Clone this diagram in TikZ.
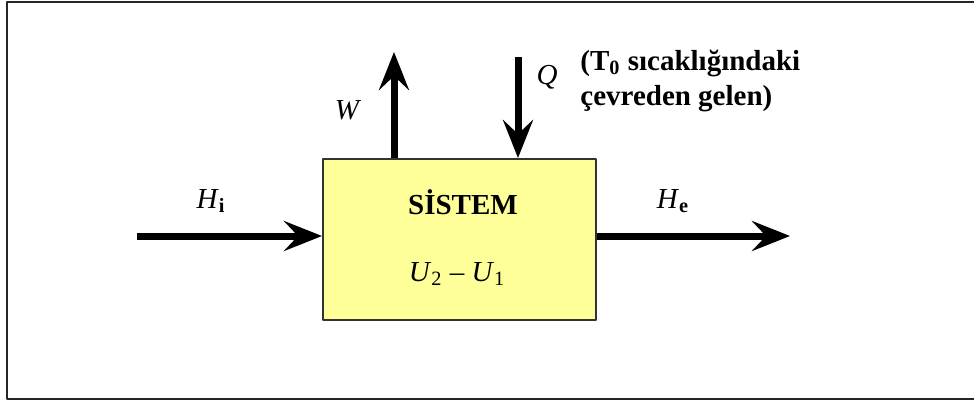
\documentclass[tikz,border=0pt]{standalone}
\usepackage{fontspec}
\setmainfont{Liberation Serif}
\usetikzlibrary{arrows.meta}
\definecolor{sysyellow}{RGB}{255,255,153}

\begin{document}
\begin{tikzpicture}[x=0.5pt,y=-0.5pt,line join=round,
  flow/.style={line width=3.5pt,-{Stealth[length=19pt,width=15pt,inset=7pt]}},
  sysbox/.style={draw=black!80,line width=1pt,fill=sysyellow,
    minimum width=136.5pt,minimum height=80.5pt,inner sep=0pt},
  lbl/.style={font=\fontsize{14.5}{17}\selectfont,inner sep=0pt}]

  \useasboundingbox (0,0) rectangle (974,402);
  %% outer frame, its right side runs off the page
  \draw[line width=1pt,black!85] (974,2) -- (7,2) -- (7,399) -- (974,399);

  %% ---------------- the system ----------------
  \node[sysbox] (sys) at (459.5,239.5) {};
  \node[lbl,font=\fontsize{14.5}{17}\selectfont\bfseries,anchor=base] (title) at (463,214) {SİSTEM};
  \node[lbl,anchor=base] (energy) at (457,281)
       {\textit{U}\textsubscript{2} – \textit{U}\textsubscript{1}};

  %% ---------------- enthalpy in and out ----------------
  \coordinate (hin) at (137,236);
  \coordinate (hout) at (790,236);
  \draw[flow] (hin) -- (hin -| sys.west);
  \draw[flow] (hin -| sys.east) -- (hout);
  \node[lbl,anchor=base] (hi) at (211,208) {\textit{H}\textsubscript{\textbf{i}}};
  \node[lbl,anchor=base] (he) at (673,208) {\textit{H}\textsubscript{\textbf{e}}};

  %% ---------------- work out, heat in ----------------
  \coordinate (wtop) at (394,52);
  \coordinate (qtop) at (518,57);
  \draw[flow] (wtop |- sys.north) -- (wtop);
  \draw[flow] (qtop) -- (qtop |- sys.north);
  \node[lbl] (w) at (348,110) {\textit{W}};
  \node[lbl] (q) at (547,77) {\textit{Q}};
  %% base of a two-line node is the last line
  \node[inner sep=0pt,anchor=base west,align=left,
        font=\fontsize{14.5}{17.5}\selectfont\bfseries] (src) at (580,105)
       {(T\textsubscript{0} sıcaklığındaki\\çevreden gelen)};

\end{tikzpicture}
\end{document}
